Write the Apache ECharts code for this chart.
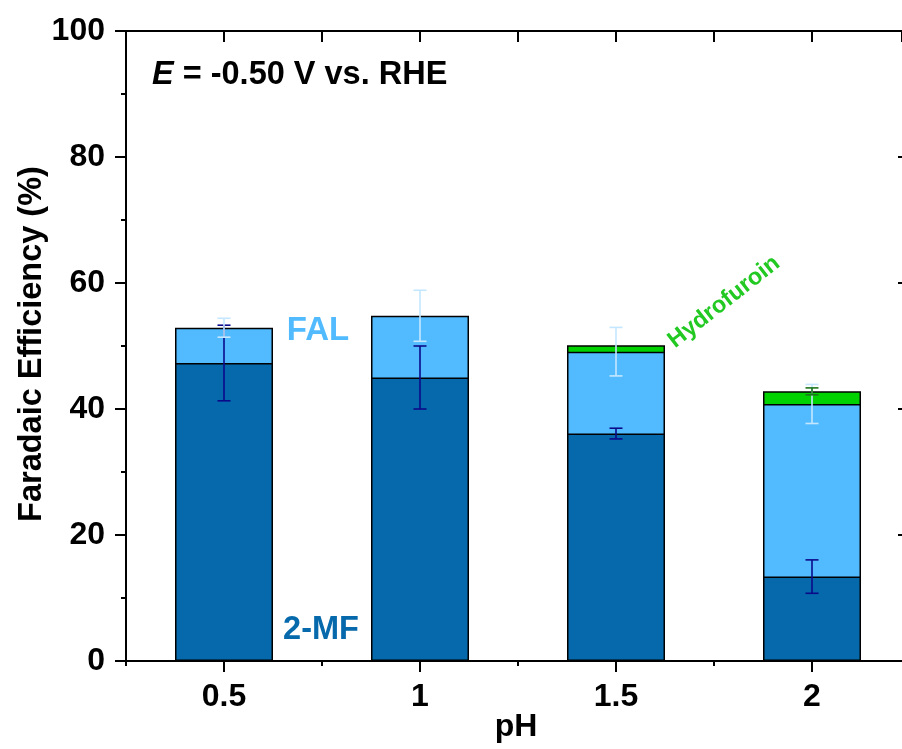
<!DOCTYPE html>
<html>
<head>
<meta charset="utf-8">
<script src="https://cdn.jsdelivr.net/npm/echarts@6/dist/echarts.min.js"></script>
<style>
  html, body { margin: 0; padding: 0; background: #fff; overflow: hidden; }
  #chart { width: 902px; height: 749px; }
</style>
</head>
<body>
<div id="chart"></div>
<script>
  // values (Faradaic efficiency, %)
  const phValues = [0.5, 1, 1.5, 2];
  const mfValues = [47.3, 45.0, 36.1, 13.4];      // 2-MF part
  const falValues = [5.6, 9.8, 13.0, 27.4];       // FAL part, stacked on 2-MF
  const hydroValues = [null, null, 1.0, 2.0];     // hydrofuroin, stacked on top
  const mfErr = [6.0, 5.0, 0.85, 2.65];
  const falErr = [1.5, 4.05, 3.85, 3.1];
  const hydroErr = [null, null, null, 0.55];
  const xMinorTicks = [0.25, 0.75, 1.25, 1.75];
  const yTicks = [0, 20, 40, 60, 80, 100];

  // x range: frame starts at pH 0.25, right frame is just past the picture edge
  const X_MIN = 0.25, X_MAX = 0.25 + 776 / 392;

  const FONT = "'Liberation Sans', Arial, sans-serif";
  const MF_COLOR = '#0569ab';
  const FAL_COLOR = '#52bbff';
  const HYDRO_COLOR = '#00d200';

  // cumulative tops; bars are overlapped (tallest first) so they read as a stack
  const falTop = mfValues.map((v, i) => v + falValues[i]);
  const hydroTop = falTop.map((v, i) => (hydroValues[i] == null ? null : v + hydroValues[i]));
  const pairs = vals => vals.map((v, i) => [phValues[i], v == null ? '-' : v]);

  // error bar data: [pH, centre, err]
  function errData(base, err) {
    const out = [];
    base.forEach((v, i) => { if (err[i] != null) out.push([phValues[i], v, err[i]]); });
    return out;
  }

  function errRender(color) {
    return function (params, api) {
      const x = api.value(0), c = api.value(1), e = api.value(2);
      const top = api.coord([x, c + e]);
      const bot = api.coord([x, c - e]);
      const cap = 6.5;
      const style = { stroke: color, lineWidth: 1.6 };
      return {
        type: 'group',
        children: [
          { type: 'line', shape: { x1: top[0], y1: top[1], x2: bot[0], y2: bot[1] }, style: style },
          { type: 'line', shape: { x1: top[0] - cap, y1: top[1], x2: top[0] + cap, y2: top[1] }, style: style },
          { type: 'line', shape: { x1: bot[0] - cap, y1: bot[1], x2: bot[0] + cap, y2: bot[1] }, style: style }
        ]
      };
    };
  }

  const chart = echarts.init(document.getElementById('chart'));
  const barStyle = c => ({ color: c, borderColor: '#000', borderWidth: 1.5 });
  const black = { color: '#000', width: 2 };

  const option = {
    animation: false,
    grid: { left: 126, top: 31, right: 0, height: 630, containLabel: false },
    xAxis: [
      {
        type: 'value', position: 'bottom', min: X_MIN, max: X_MAX,
        axisLine: { show: true, onZero: false, lineStyle: black },
        axisTick: { show: true, length: 11, customValues: phValues, lineStyle: black },
        axisLabel: { color: '#000', fontSize: 32, fontWeight: 'bold', fontFamily: FONT, margin: 20,
          customValues: phValues, formatter: v => String(v) },
        splitLine: { show: false }
      },
      {
        type: 'value', position: 'bottom', min: X_MIN, max: X_MAX,
        axisLine: { show: false, onZero: false },
        axisTick: { show: true, length: 5, customValues: xMinorTicks, lineStyle: black },
        axisLabel: { show: false },
        splitLine: { show: false }
      },
      {
        type: 'value', position: 'top', min: X_MIN, max: X_MAX, interval: 0.25,
        axisLine: { show: true, onZero: false, lineStyle: black },
        axisTick: { show: true, inside: true, length: 11, lineStyle: black },
        axisLabel: { show: false },
        splitLine: { show: false }
      }
    ],
    yAxis: [
      {
        type: 'value', min: 0, max: 100, interval: 20,
        axisLine: { show: true, onZero: false, lineStyle: black },
        axisTick: { show: true, length: 11, lineStyle: black },
        minorTick: { show: true, splitNumber: 2, length: 5, lineStyle: black },
        axisLabel: { color: '#000', fontSize: 32, fontWeight: 'bold', fontFamily: FONT, margin: 21,
          formatter: v => (yTicks.indexOf(v) >= 0 ? String(v) : '') },
        splitLine: { show: false }
      },
      {
        // right frame is off the picture; only the tips of its inward ticks show
        type: 'value', position: 'right', min: 0, max: 100, interval: 20,
        axisLine: { show: false, onZero: false },
        axisTick: { show: true, inside: true, length: 4, lineStyle: black },
        axisLabel: { show: false },
        splitLine: { show: false }
      }
    ],
    series: [
      { name: 'Hydrofuroin', type: 'bar', data: pairs(hydroTop), barWidth: 98, barGap: '-100%',
        itemStyle: barStyle(HYDRO_COLOR), z: 2 },
      { name: 'FAL', type: 'bar', data: pairs(falTop), barWidth: 98, barGap: '-100%',
        itemStyle: barStyle(FAL_COLOR), z: 2 },
      { name: '2-MF', type: 'bar', data: pairs(mfValues), barWidth: 98, barGap: '-100%',
        itemStyle: barStyle(MF_COLOR), z: 2 },
      { type: 'custom', data: errData(mfValues, mfErr), renderItem: errRender('#0b0b8a'), z: 5 },
      { type: 'custom', data: errData(falTop, falErr), renderItem: errRender('#c4e7ff'), z: 6 },
      { type: 'custom', data: errData(hydroTop, hydroErr), renderItem: errRender('#1d761d'), z: 7 }
    ],
    graphic: [
      {
        type: 'text', x: 152, y: 75,
        style: {
          text: '{it|E} = -0.50 V vs. RHE', fill: '#000', fontSize: 32.5, fontWeight: 'bold', fontFamily: FONT,
          verticalAlign: 'middle',
          rich: { it: { fontStyle: 'italic', fontSize: 32.5, fontWeight: 'bold', fontFamily: FONT } }
        }
      },
      {
        type: 'text', x: 32, y: 344, rotation: Math.PI / 2,
        style: { text: 'Faradaic Efficiency (%)', fill: '#000', fontSize: 32.5, fontWeight: 'bold', fontFamily: FONT,
          align: 'center', verticalAlign: 'middle' }
      },
      {
        type: 'text', x: 516, y: 727,
        style: { text: 'pH', fill: '#000', fontSize: 32, fontWeight: 'bold', fontFamily: FONT,
          align: 'center', verticalAlign: 'middle' }
      },
      {
        type: 'text', x: 318, y: 331,
        style: { text: 'FAL', fill: FAL_COLOR, fontSize: 33, fontWeight: 'bold', fontFamily: FONT,
          align: 'center', verticalAlign: 'middle' }
      },
      {
        type: 'text', x: 321, y: 630,
        style: { text: '2-MF', fill: MF_COLOR, fontSize: 32.5, fontWeight: 'bold', fontFamily: FONT,
          align: 'center', verticalAlign: 'middle' }
      },
      {
        type: 'text', x: 724, y: 302, rotation: 38 * Math.PI / 180,
        style: { text: 'Hydrofuroin', fill: '#22c922', fontSize: 23.5, fontWeight: 'bold', fontFamily: FONT,
          align: 'center', verticalAlign: 'middle' }
      }
    ]
  };
  chart.setOption(option);
</script>
</body>
</html>
